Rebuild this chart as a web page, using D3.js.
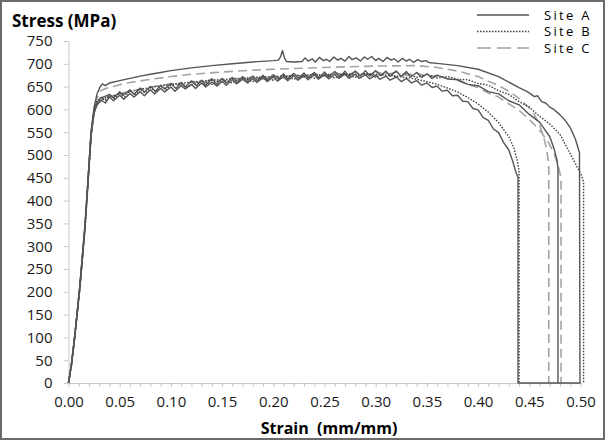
<!DOCTYPE html>
<html>
<head>
<meta charset="utf-8">
<script src="https://cdn.jsdelivr.net/npm/d3@7"></script>
<style>
  body { margin: 0; background: #fff; }
  svg { display: block; }
  text { font-family: "Open Sans", sans-serif; }
</style>
</head>
<body>
<div class="chart"></div>
<script>
// strain (mm/mm), stress (MPa)
var siteA1 = [[0,0],[0.003,45],[0.006,100],[0.011,212],[0.016,345],[0.019,445],[0.022,550],[0.025,605],[0.028,635],[0.031,650],[0.033,656],[0.036,652],[0.04,658],[0.05,663],[0.06,668],[0.07,673],[0.08,677],[0.09,681],[0.10,685],[0.12,691],[0.14,696],[0.16,700],[0.18,704],[0.20,707],[0.205,708],[0.207,715],[0.209,729],[0.211,712],[0.213,705],[0.22,704],[0.228,705],[0.231,713],[0.234,706],[0.238,711],[0.241,704],[0.245,714],[0.249,707],[0.252,710],[0.255,705],[0.259,715],[0.263,708],[0.266,712],[0.27,706],[0.274,716],[0.277,709],[0.281,713],[0.285,706],[0.289,715],[0.292,710],[0.296,716],[0.30,707],[0.303,712],[0.307,705],[0.311,714],[0.315,708],[0.318,711],[0.322,704],[0.326,712],[0.33,706],[0.333,710],[0.337,703],[0.341,709],[0.345,705],[0.349,707],[0.352,703],[0.36,701],[0.38,696],[0.40,688],[0.42,672],[0.44,648],[0.448,639],[0.452,633],[0.455,628],[0.458,630],[0.462,617],[0.466,614],[0.47,605],[0.474,600],[0.48,588],[0.485,576],[0.49,560],[0.495,535],[0.499,505],[0.4995,0]];
var siteA2 = [[0,0],[0.003,40],[0.006,98],[0.011,205],[0.016,335],[0.019,435],[0.022,540],[0.025,592],[0.028,610],[0.032,620],[0.036,614],[0.04,627],[0.044,619],[0.05,631],[0.054,622],[0.06,635],[0.064,627],[0.07,639],[0.074,630],[0.08,643],[0.084,634],[0.09,646],[0.094,638],[0.10,649],[0.104,640],[0.11,652],[0.114,645],[0.12,655],[0.124,646],[0.13,658],[0.134,649],[0.14,660],[0.145,651],[0.15,662],[0.154,653],[0.16,665],[0.164,656],[0.17,666],[0.175,658],[0.18,668],[0.184,659],[0.19,670],[0.194,661],[0.20,671],[0.204,662],[0.21,672],[0.214,663],[0.22,674],[0.224,664],[0.23,674],[0.234,665],[0.24,676],[0.244,666],[0.25,676],[0.254,667],[0.26,677],[0.264,668],[0.27,677],[0.274,668],[0.28,677],[0.284,668],[0.29,676],[0.294,667],[0.30,675],[0.304,666],[0.31,673],[0.314,664],[0.32,671],[0.325,661],[0.33,668],[0.335,658],[0.34,663],[0.345,653],[0.35,658],[0.355,648],[0.36,651],[0.365,640],[0.37,642],[0.375,630],[0.38,631],[0.385,618],[0.39,617],[0.395,602],[0.40,599],[0.405,582],[0.41,576],[0.415,557],[0.42,549],[0.425,527],[0.43,511],[0.434,485],[0.437,462],[0.439,450],[0.439,0],[0.50,0]];
var siteA3 = [[0,0],[0.003,44],[0.006,101],[0.011,209],[0.016,341],[0.019,441],[0.022,546],[0.025,598],[0.028,615],[0.031,625],[0.035,628],[0.04,633],[0.044,625],[0.05,639],[0.053,630],[0.06,643],[0.064,633],[0.07,647],[0.074,638],[0.08,650],[0.085,640],[0.09,653],[0.094,645],[0.10,657],[0.105,646],[0.11,659],[0.114,649],[0.12,662],[0.125,652],[0.13,664],[0.134,653],[0.14,667],[0.145,655],[0.15,668],[0.154,658],[0.16,670],[0.165,659],[0.17,672],[0.174,660],[0.18,673],[0.185,663],[0.19,675],[0.194,664],[0.20,676],[0.205,666],[0.21,678],[0.214,666],[0.22,679],[0.225,668],[0.23,680],[0.234,669],[0.24,681],[0.245,669],[0.25,682],[0.254,671],[0.26,683],[0.265,671],[0.27,684],[0.274,672],[0.28,684],[0.285,673],[0.29,685],[0.294,673],[0.30,685],[0.305,674],[0.31,684],[0.314,673],[0.32,684],[0.325,672],[0.33,683],[0.334,671],[0.34,681],[0.345,670],[0.35,678],[0.355,668],[0.36,675],[0.37,667],[0.38,665],[0.39,655],[0.40,652],[0.41,639],[0.42,634],[0.43,619],[0.44,610],[0.45,589],[0.46,572],[0.465,556],[0.47,540],[0.474,515],[0.477,490],[0.478,470],[0.478,0]];
var siteB1 = [[0,0],[0.003,42],[0.006,100],[0.011,208],[0.016,338],[0.019,438],[0.022,543],[0.025,596],[0.028,614],[0.032,622],[0.04,628],[0.05,634],[0.06,639],[0.07,644],[0.08,648],[0.09,652],[0.10,655],[0.12,660],[0.14,664],[0.16,667],[0.18,670],[0.20,672],[0.22,674],[0.24,676],[0.26,677],[0.28,677],[0.30,677],[0.31,675],[0.32,673],[0.33,670],[0.34,666],[0.35,661],[0.36,655],[0.37,647],[0.38,638],[0.39,626],[0.40,612],[0.41,594],[0.42,571],[0.43,540],[0.435,515],[0.438,490],[0.440,465],[0.440,0]];
var siteB2 = [[0,0],[0.003,44],[0.006,102],[0.011,210],[0.016,342],[0.019,442],[0.022,546],[0.025,600],[0.028,618],[0.032,626],[0.036,620],[0.04,632],[0.045,624],[0.05,637],[0.055,628],[0.06,641],[0.065,632],[0.07,645],[0.075,636],[0.08,648],[0.085,639],[0.09,651],[0.095,643],[0.10,654],[0.11,657],[0.115,648],[0.12,653],[0.13,662],[0.14,655],[0.15,666],[0.16,658],[0.17,669],[0.18,661],[0.19,672],[0.20,664],[0.21,674],[0.22,666],[0.23,676],[0.24,668],[0.25,678],[0.26,669],[0.27,679],[0.28,670],[0.29,680],[0.30,671],[0.31,680],[0.32,671],[0.33,679],[0.34,670],[0.35,677],[0.36,669],[0.37,672],[0.38,666],[0.39,665],[0.40,657],[0.41,653],[0.42,641],[0.43,633],[0.44,617],[0.45,605],[0.46,585],[0.47,568],[0.48,545],[0.487,515],[0.493,490],[0.498,468],[0.501,455],[0.503,440],[0.503,0]];
var siteC1 = [[0,0],[0.003,43],[0.006,101],[0.011,209],[0.016,340],[0.019,441],[0.022,545],[0.025,600],[0.028,625],[0.031,640],[0.035,645],[0.04,648],[0.05,654],[0.06,659],[0.08,666],[0.10,672],[0.12,677],[0.15,682],[0.18,686],[0.20,688],[0.25,692],[0.30,695],[0.34,696],[0.36,692],[0.38,684],[0.40,672],[0.41,662],[0.42,652],[0.43,640],[0.44,624],[0.45,603],[0.455,588],[0.46,566],[0.464,540],[0.467,512],[0.469,480],[0.469,0]];
var siteC2 = [[0,0],[0.003,41],[0.006,99],[0.011,207],[0.016,337],[0.019,437],[0.022,541],[0.025,594],[0.028,612],[0.032,620],[0.04,627],[0.05,633],[0.06,640],[0.07,644],[0.08,649],[0.09,652],[0.10,656],[0.11,653],[0.12,662],[0.13,657],[0.14,666],[0.15,660],[0.16,669],[0.17,663],[0.18,672],[0.19,666],[0.20,674],[0.21,668],[0.22,677],[0.23,670],[0.24,679],[0.25,672],[0.26,681],[0.27,674],[0.28,682],[0.29,675],[0.30,683],[0.31,676],[0.32,682],[0.33,675],[0.34,680],[0.35,672],[0.36,674],[0.37,667],[0.38,664],[0.39,654],[0.40,648],[0.41,636],[0.42,627],[0.43,612],[0.44,598],[0.45,578],[0.46,555],[0.468,530],[0.474,505],[0.478,478],[0.481,450],[0.481,0]];

var legendNames = ["Site A", "Site B", "Site C"];
var yTicks = d3.range(0, 751, 50);
var xTicks = d3.range(0, 51).map(function(d) { return d / 100; });

var width = 605;
var height = 441;

var xScale = d3.scaleLinear().domain([0, 0.5]).range([68.5, 580.5]);
var yScale = d3.scaleLinear().domain([0, 750]).range([383, 41]);

var svg = d3
  .select(".chart")
  .append("svg")
  .attr("width", width)
  .attr("height", height)
  .style("background", "#fff");

svg
  .append("rect")
  .attr("x", 1)
  .attr("y", 1)
  .attr("width", width - 2)
  .attr("height", height - 3)
  .attr("fill", "none")
  .attr("stroke", "#6b6b6b")
  .attr("stroke-width", 2);

// axes
var yAxis = svg
  .append("g")
  .attr("transform", "translate(" + xScale(0) + ",0)")
  .call(
    d3.axisLeft(yScale).tickValues(yTicks).tickSize(5).tickSizeOuter(0).tickPadding(11)
  );

var xAxis = svg
  .append("g")
  .attr("transform", "translate(0," + yScale(0) + ")")
  .call(
    d3
      .axisBottom(xScale)
      .tickValues(xTicks)
      .tickSize(4)
      .tickSizeOuter(0)
      .tickPadding(9)
      .tickFormat(function(d) {
        return Math.round(d * 100) % 5 === 0 ? d3.format(".2f")(d) : "";
      })
  );

svg.selectAll(".domain, .tick line").attr("stroke", "#c8c8c8");
svg.selectAll(".tick text")
  .attr("fill", "#1a1a1a")
  .style("font-size", "15px")
  .style("font-family", "'Open Sans', sans-serif");

// titles
svg
  .append("text")
  .attr("x", 12)
  .attr("y", 27)
  .attr("font-size", 17)
  .attr("font-weight", "bold")
  .attr("fill", "#000")
  .text("Stress (MPa)");

svg
  .append("text")
  .attr("x", 329)
  .attr("y", 434)
  .attr("text-anchor", "middle")
  .attr("font-size", 16)
  .attr("font-weight", "bold")
  .attr("fill", "#000")
  .text("Strain\u00a0 (mm/mm)");

// curves
var line = d3
  .line()
  .x(function(d) { return xScale(d[0]); })
  .y(function(d) { return yScale(d[1]); });

var styles = {
  A: { stroke: "#555555", dash: null, width: 1.4 },
  B: { stroke: "#3d3d3d", dash: "1.5,1.5", width: 1.4 },
  C: { stroke: "#a3a3a3", dash: "9,5", width: 1.6 }
};

var curves = [
  { site: "C", data: siteC2 },
  { site: "C", data: siteC1 },
  { site: "B", data: siteB2 },
  { site: "B", data: siteB1 },
  { site: "A", data: siteA3 },
  { site: "A", data: siteA2 },
  { site: "A", data: siteA1 }
];

svg
  .selectAll("path.curve")
  .data(curves)
  .enter()
  .append("path")
  .attr("class", "curve")
  .attr("fill", "none")
  .attr("stroke", function(d) { return styles[d.site].stroke; })
  .attr("stroke-width", function(d) { return styles[d.site].width; })
  .attr("stroke-dasharray", function(d) { return styles[d.site].dash; })
  .attr("stroke-linejoin", "round")
  .attr("d", function(d) { return line(d.data); });

// legend
var legend = svg
  .selectAll("g.legend")
  .data(legendNames)
  .enter()
  .append("g")
  .attr("class", "legend")
  .attr("transform", function(d, i) { return "translate(477," + (15 + i * 16.5) + ")"; });

legend
  .append("line")
  .attr("x1", 0)
  .attr("x2", 52)
  .attr("stroke", function(d, i) { return styles["ABC"[i]].stroke; })
  .attr("stroke-width", 1.5)
  .attr("stroke-dasharray", function(d, i) { return i === 2 ? "14,6" : styles["ABC"[i]].dash; });

legend
  .append("text")
  .attr("x", 67)
  .attr("dy", "0.35em")
  .attr("font-size", 13)
  .attr("letter-spacing", "2.3px")
  .attr("fill", "#000")
  .text(function(d) { return d; });
</script>
</body>
</html>
